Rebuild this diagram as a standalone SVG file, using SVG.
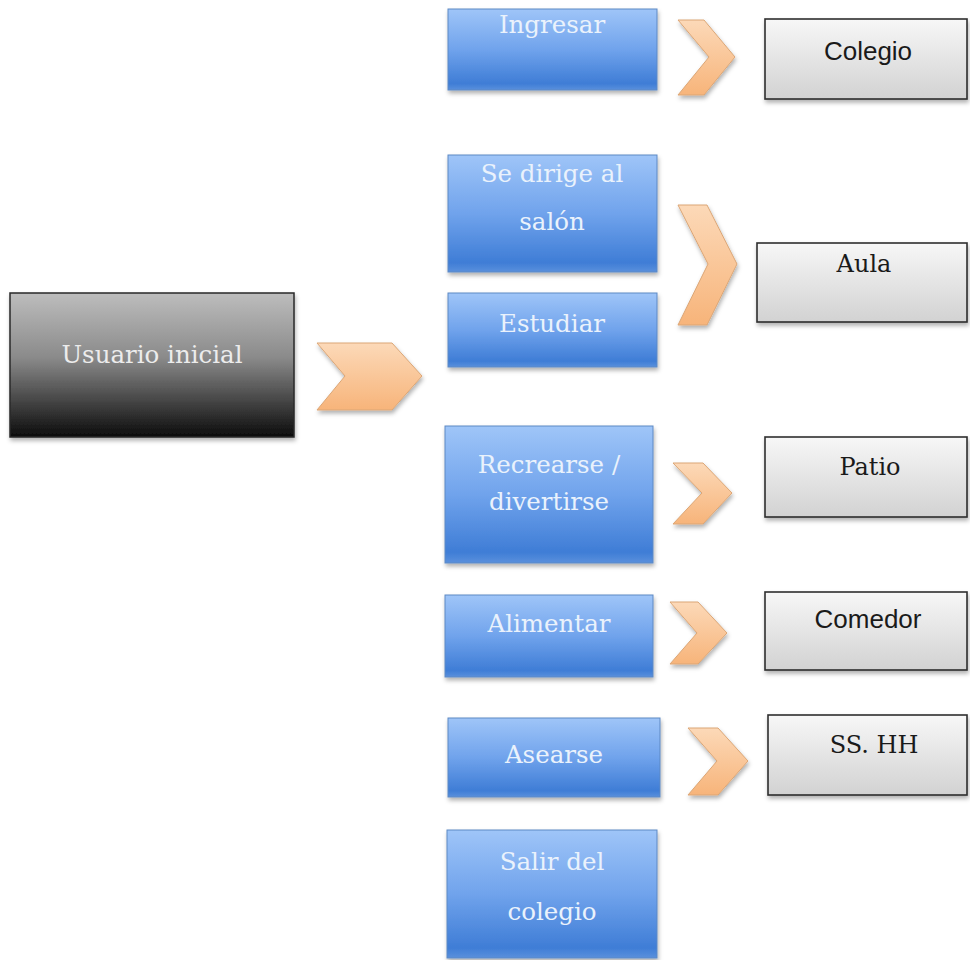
<svg xmlns="http://www.w3.org/2000/svg" width="970" height="960" viewBox="0 0 970 960">
  <defs>
    <linearGradient id="gBlue" x1="0" y1="0" x2="0" y2="1">
      <stop offset="0" stop-color="#9fc5f8"/>
      <stop offset="0.5" stop-color="#70a3ec"/>
      <stop offset="0.92" stop-color="#3f7dd6"/>
      <stop offset="1" stop-color="#5a90dc"/>
    </linearGradient>
    <linearGradient id="gDark" x1="0" y1="0" x2="0" y2="1">
      <stop offset="0" stop-color="#bdbdbd"/>
      <stop offset="0.45" stop-color="#8a8a8a"/>
      <stop offset="1" stop-color="#0c0c0c"/>
    </linearGradient>
    <linearGradient id="gGray" x1="0" y1="0" x2="0" y2="1">
      <stop offset="0" stop-color="#f7f7f7"/>
      <stop offset="1" stop-color="#d2d2d2"/>
    </linearGradient>
    <linearGradient id="gPeach" x1="0" y1="0" x2="0" y2="1">
      <stop offset="0" stop-color="#fcd9b8"/>
      <stop offset="1" stop-color="#f7b47a"/>
    </linearGradient>
    <filter id="shadow" x="-10%" y="-10%" width="125%" height="130%">
      <feDropShadow dx="1" dy="3" stdDeviation="2" flood-color="#000" flood-opacity="0.3"/>
    </filter>
  </defs>
  <style>
    .blue { fill: url(#gBlue); stroke: #5d89c4; stroke-width: 1; filter: url(#shadow); }
    .dark { fill: url(#gDark); stroke: #2a2a2a; stroke-width: 1.5; filter: url(#shadow); }
    .gray { fill: url(#gGray); stroke: #2e2e2e; stroke-width: 1.6; filter: url(#shadow); }
    .chev { fill: url(#gPeach); stroke: #dba676; stroke-width: 1; filter: url(#shadow); }
    .tw { font-family: "DejaVu Serif", "Liberation Serif", serif; font-size: 24.5px; fill: #eaf2fc; text-anchor: middle; }
    .tu { font-family: "DejaVu Serif", "Liberation Serif", serif; font-size: 24.5px; fill: #ececec; text-anchor: middle; }
    .ts { font-family: "DejaVu Serif", "Liberation Serif", serif; font-size: 24px; fill: #1a1a1a; text-anchor: middle; }
    .tn { font-family: "Liberation Sans", Arial, sans-serif; font-size: 26px; fill: #1a1a1a; text-anchor: middle; }
  </style>

  <rect width="970" height="960" fill="#ffffff"/>

  <!-- starting actor -->
  <g id="usuario">
    <rect class="dark" x="10" y="293" width="284" height="144"/>
    <text class="tu" x="152" y="363">Usuario inicial</text>
  </g>

  <!-- activities -->
  <g id="ingresar">
    <rect class="blue" x="448" y="9" width="209" height="81"/>
    <text class="tw" x="552" y="33">Ingresar</text>
  </g>
  <g id="dirige">
    <rect class="blue" x="448" y="155" width="209" height="117"/>
    <text class="tw" x="552" y="182">Se dirige al</text>
    <text class="tw" x="552" y="230">salón</text>
  </g>
  <g id="estudiar">
    <rect class="blue" x="448" y="293" width="209" height="74"/>
    <text class="tw" x="552" y="332">Estudiar</text>
  </g>
  <g id="recrearse">
    <rect class="blue" x="445" y="426" width="208" height="137"/>
    <text class="tw" x="549" y="473">Recrearse /</text>
    <text class="tw" x="549" y="510">divertirse</text>
  </g>
  <g id="alimentar">
    <rect class="blue" x="445" y="595" width="208" height="82"/>
    <text class="tw" x="549" y="632">Alimentar</text>
  </g>
  <g id="asearse">
    <rect class="blue" x="448" y="718" width="212" height="79"/>
    <text class="tw" x="554" y="763">Asearse</text>
  </g>
  <g id="salir">
    <rect class="blue" x="447" y="830" width="210" height="128"/>
    <text class="tw" x="552" y="870">Salir del</text>
    <text class="tw" x="552" y="920">colegio</text>
  </g>

  <!-- places -->
  <g id="colegio">
    <rect class="gray" x="765" y="19" width="202" height="80"/>
    <text class="tn" x="868" y="60">Colegio</text>
  </g>
  <g id="aula">
    <rect class="gray" x="757" y="243" width="210" height="79"/>
    <text class="ts" x="864" y="272">Aula</text>
  </g>
  <g id="patio">
    <rect class="gray" x="765" y="437" width="202" height="80"/>
    <text class="ts" x="870" y="475">Patio</text>
  </g>
  <g id="comedor">
    <rect class="gray" x="765" y="592" width="202" height="78"/>
    <text class="tn" x="868" y="628">Comedor</text>
  </g>
  <g id="sshh">
    <rect class="gray" x="768" y="715" width="199" height="80"/>
    <text class="ts" x="874" y="753">SS. HH</text>
  </g>

  <!-- chevron connectors -->
  <g id="connectors">
    <polygon class="chev" points="317,343 392,343 422,376 392,410 317,410 345,376"/>
    <polygon class="chev" points="678,20 704,20 735,57 704,95 678,95 709,57"/>
    <polygon class="chev" points="678,205 707,205 737,264 707,325 678,325 708,264"/>
    <polygon class="chev" points="673,463 703,463 732,493 703,524 673,524 702,493"/>
    <polygon class="chev" points="670,602 698,602 727,633 698,664 670,664 697,633"/>
    <polygon class="chev" points="688,728 718,728 748,761 718,795 688,795 717,761"/>
  </g>
</svg>
